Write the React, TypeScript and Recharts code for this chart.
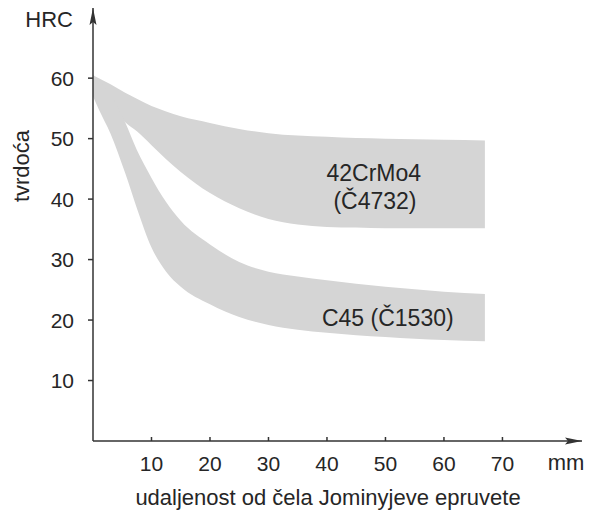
import { ComposedChart, Area, XAxis, YAxis, ReferenceDot, Label } from 'recharts';

// distance from the quenched end (mm) and hardness limits (HRC)
const distanceMm = [0, 1, 3, 5.5, 7.5, 10, 12.5, 15, 20, 25, 30, 35, 40, 45, 50, 55, 60, 67];
const crMoMax = [60.5, 60, 59, 57.6, 56.6, 55.4, 54.5, 53.7, 52.6, 51.6, 50.9, 50.5, 50.3, 50.1, 50, 49.9, 49.8, 49.7];
const crMoMin = [58.5, 57.5, 55.6, 52.7, 51.2, 48.9, 46.6, 44.5, 41, 38.5, 36.7, 35.8, 35.4, 35.3, 35.2, 35.2, 35.2, 35.2];
const c45Max = [60.5, 59.6, 57.2, 52.7, 48.1, 43.5, 39.5, 36.4, 32.5, 29.6, 28, 27.2, 26.6, 26, 25.5, 25.1, 24.7, 24.3];
const c45Min = [57, 54.8, 50.8, 44.3, 38.5, 32, 28, 25.5, 22.6, 20.5, 19.2, 18.4, 17.9, 17.5, 17.2, 16.9, 16.7, 16.5];

const xTicks = [10, 20, 30, 40, 50, 60, 70];
const yTicks = [10, 20, 30, 40, 50, 60];

const bandLabels = [
  { text: '42CrMo4', mm: 48, hrc: 44.3 },
  { text: '(Č4732)', mm: 48.2, hrc: 39.7 },
  { text: 'C45 (Č1530)', mm: 50.4, hrc: 20.3 },
];

const data = distanceMm.map((mm, i) => ({
  mm,
  crmo: [crMoMin[i], crMoMax[i]],
  c45: [c45Min[i], c45Max[i]],
}));

const FONT = '"Liberation Sans", Arial, sans-serif';
const INK = '#262626';
const AXIS = '#333';
const BAND = '#d5d5d5';

const XTick = ({ x, y, payload }: any) => (
  <g>
    <line x1={x} x2={x} y1={y - 4} y2={y} stroke={AXIS} strokeWidth={1.5} />
    <text x={x} y={y + 30} textAnchor="middle" fontSize={21} fill={INK} fontFamily={FONT}>
      {payload.value}
    </text>
  </g>
);

const App = () => (
  <div style={{ position: 'absolute', left: 0, top: 0, width: 600, height: 515 }}>
    <svg width={0} height={0} style={{ position: 'absolute' }}>
      <defs>
        <marker id="axisArrow" markerUnits="userSpaceOnUse" markerWidth={17} markerHeight={8}
          refX={17} refY={4} orient="auto-start-reverse">
          <path d="M0,0.5 L17,4 L0,7.5 L3,4 z" fill={AXIS} />
        </marker>
      </defs>
    </svg>
    <ComposedChart width={600} height={515} data={data} margin={{ top: 8, right: 18, bottom: 0, left: 0 }}>
      <XAxis
        dataKey="mm"
        type="number"
        domain={[0, 83.6]}
        ticks={xTicks}
        allowDataOverflow
        height={74}
        tickSize={0}
        tickMargin={0}
        tickLine={false}
        tick={<XTick />}
        axisLine={{ stroke: AXIS, strokeWidth: 1.5, markerEnd: 'url(#axisArrow)' }}
      >
        <Label content={({ viewBox }: any) => (
          <text x={viewBox.x + viewBox.width - 16} y={viewBox.y + 29} textAnchor="middle"
            fontSize={22} fill={INK} fontFamily={FONT}>mm</text>
        )} />
        <Label content={({ viewBox }: any) => (
          <text x={viewBox.x + 235} y={viewBox.y + 64} textAnchor="middle"
            fontSize={22} fill={INK} fontFamily={FONT}>udaljenost od čela Jominyjeve epruvete</text>
        )} />
      </XAxis>
      <YAxis
        type="number"
        domain={[0, 71.6]}
        ticks={yTicks}
        allowDataOverflow
        width={93}
        tickSize={5}
        tickMargin={14}
        tick={{ fontSize: 21, fill: INK, fontFamily: FONT }}
        tickLine={{ stroke: AXIS, strokeWidth: 1.5 }}
        axisLine={{ stroke: AXIS, strokeWidth: 1.5, markerStart: 'url(#axisArrow)' }}
      >
        <Label content={({ viewBox }: any) => (
          <text x={viewBox.x + 73} y={viewBox.y + 19} textAnchor="end"
            fontSize={22} fill={INK} fontFamily={FONT}>HRC</text>
        )} />
        <Label content={({ viewBox }: any) => (
          <text x={viewBox.x + 21} y={viewBox.y + 158} textAnchor="middle" dominantBaseline="central"
            transform={`rotate(-90 ${viewBox.x + 21} ${viewBox.y + 158})`}
            fontSize={22} fill={INK} fontFamily={FONT}>tvrdoća</text>
        )} />
      </YAxis>
      <Area type="monotone" dataKey="crmo" stroke="none" fill={BAND} fillOpacity={1}
        dot={false} activeDot={false} isAnimationActive={false} />
      <Area type="monotone" dataKey="c45" stroke="none" fill={BAND} fillOpacity={1}
        dot={false} activeDot={false} isAnimationActive={false} />
      {bandLabels.map((b) => (
        <ReferenceDot key={b.text} x={b.mm} y={b.hrc} r={0} fill="none" stroke="none"
          label={{ value: b.text, position: 'center', fontSize: 23, fill: INK, fontFamily: FONT }} />
      ))}
    </ComposedChart>
  </div>
);

export default App;
